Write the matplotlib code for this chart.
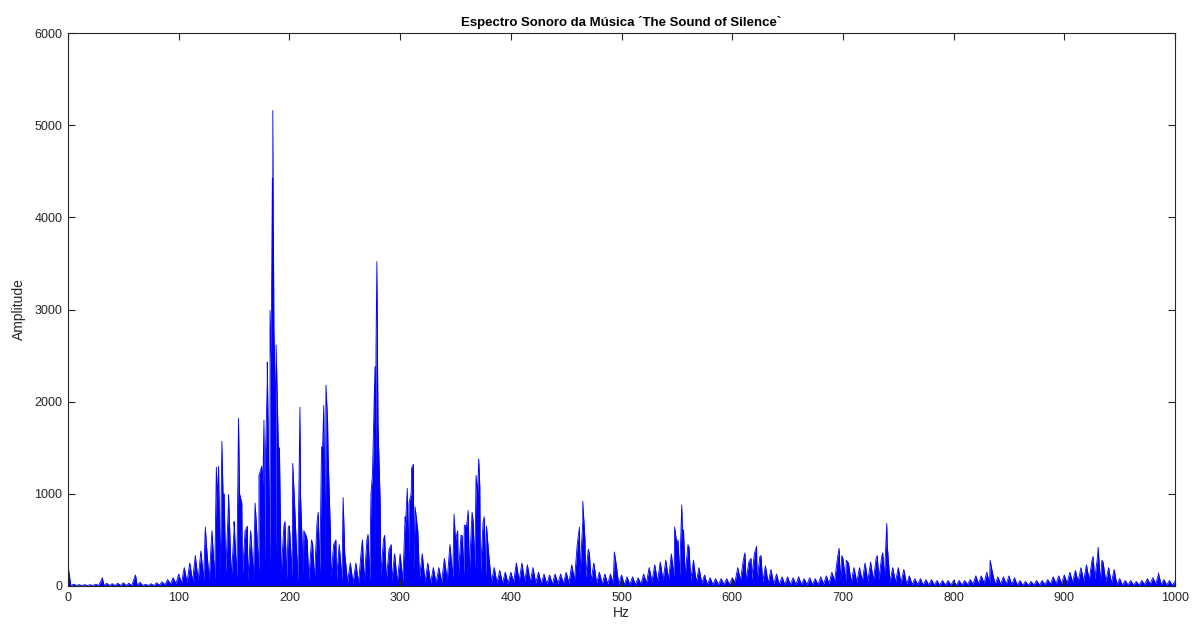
import numpy as np
import matplotlib
matplotlib.use("Agg")
import matplotlib.pyplot as plt

plt.rcParams['font.family'] = ['Liberation Sans', 'DejaVu Sans']

# upper envelope of the spectrum, every 5 Hz (0..1000)
upper_amp = [170, 20, 15, 15, 15, 20, 60, 30, 25, 30,
             35, 30, 90, 40, 20, 25, 35, 45, 70, 90,
             130, 200, 250, 330, 380, 450, 600, 900, 1000, 900,
             600, 1000, 600, 600, 700, 1300, 2200, 2600, 1500, 650,
             650, 800, 1000, 550, 500, 700, 1500, 1400, 450, 450,
             350, 250, 250, 400, 500, 1200, 1800, 500, 400, 350,
             350, 700, 1000, 700, 350, 250, 200, 200, 300, 450,
             500, 550, 650, 800, 1000, 700, 350, 200, 170, 150,
             150, 250, 250, 230, 200, 150, 130, 120, 130, 130,
             150, 230, 450, 700, 400, 250, 150, 130, 130, 250,
             120, 100, 100, 90, 130, 200, 230, 260, 280, 350,
             450, 600, 450, 280, 200, 120, 90, 80, 80, 80,
             90, 200, 280, 260, 350, 320, 220, 180, 130, 100,
             100, 90, 100, 80, 90, 80, 100, 110, 150, 300,
             300, 250, 200, 200, 250, 260, 300, 320, 450, 200,
             200, 180, 110, 80, 80, 70, 70, 60, 60, 60,
             60, 60, 60, 70, 110, 110, 150, 150, 100, 100,
             110, 90, 60, 50, 50, 60, 60, 70, 100, 110,
             120, 150, 170, 200, 230, 280, 320, 260, 200, 180,
             80, 60, 60, 50, 60, 80, 90, 120, 70, 60,
             50]

# troughs between envelope points, at 2.5, 7.5, ... 997.5 Hz
lower_amp = [5, 5, 5, 5, 5, 5, 5, 5, 5, 5,
             5, 5, 5, 5, 5, 5, 10, 15, 20, 25,
             30, 40, 50, 60, 70, 60, 80, 100, 150, 90,
             80, 120, 60, 90, 150, 250, 200, 300, 120, 80,
             90, 60, 120, 70, 60, 150, 250, 100, 60, 50,
             40, 30, 30, 50, 60, 200, 120, 60, 50, 40,
             50, 120, 150, 90, 40, 30, 30, 40, 60, 90,
             100, 120, 150, 200, 120, 80, 40, 30, 30, 25,
             40, 50, 50, 40, 30, 25, 20, 20, 25, 25,
             30, 60, 120, 90, 50, 30, 20, 20, 25, 15,
             15, 15, 15, 20, 30, 45, 50, 60, 70, 90,
             120, 110, 60, 40, 30, 15, 15, 15, 15, 15,
             40, 60, 50, 70, 60, 40, 30, 20, 15, 15,
             15, 15, 15, 15, 15, 15, 20, 25, 50, 60,
             50, 40, 40, 50, 50, 60, 70, 90, 40, 40,
             30, 20, 15, 15, 10, 10, 10, 10, 10, 10,
             10, 10, 15, 20, 25, 30, 25, 20, 20, 20,
             15, 10, 8, 8, 10, 10, 15, 20, 25, 25,
             30, 40, 45, 50, 60, 70, 50, 45, 30, 15,
             10, 10, 10, 10, 15, 20, 25, 15, 10, 8]

# narrow tonal peaks (Hz, amplitude)
peak_hz = [0.5, 31, 61, 124, 134, 136, 139, 141, 145, 150,
           154, 157, 162, 169, 172.5, 176, 177, 178.5, 180, 182.5,
           183.5, 184.6, 185, 186, 187, 188, 189, 191, 196, 199,
           203, 209.5, 213, 216, 221, 226, 229, 231, 233, 234.5,
           237, 242, 248.5, 266, 271, 273.7, 277.3, 278.2, 279, 280,
           282, 286, 292, 304.5, 306.5, 308, 310.4, 312, 313.5, 316,
           345, 348.7, 352, 356, 358, 361.5, 366, 368.6, 371, 372,
           376, 378, 462, 465, 467, 471, 493.5, 548, 551, 554.4,
           556, 561, 611.5, 617, 622, 626, 696.6, 699, 703, 731,
           736, 739.6, 833, 926, 930.6, 934, 985]
peak_amp = [180, 90, 120, 640, 1290, 1300, 1570, 1000, 990, 700,
            1820, 900, 650, 900, 1200, 1100, 1800, 1500, 2430, 2990,
            2500, 4420, 5160, 2780, 2200, 2615, 2050, 1500, 700, 650,
            1330, 1940, 600, 500, 450, 800, 1510, 1960, 2180, 1780,
            600, 500, 960, 500, 560, 1010, 2380, 2560, 3520, 1770,
            900, 550, 450, 750, 1060, 900, 1280, 1320, 860, 600,
            450, 780, 600, 550, 660, 820, 700, 1200, 1380, 1075,
            750, 650, 640, 920, 500, 350, 370, 640, 500, 880,
            610, 420, 360, 300, 430, 330, 410, 330, 280, 330,
            360, 680, 280, 320, 420, 280, 140]

upper_hz = np.arange(len(upper_amp)) * 5.0
lower_hz = np.arange(len(lower_amp)) * 5.0 + 2.5

hz = np.concatenate([upper_hz, lower_hz, peak_hz])
amp = np.concatenate([upper_amp, lower_amp, peak_amp])
order = np.argsort(hz, kind='stable')
hz, amp = hz[order], amp[order]

fig = plt.figure(figsize=(11.98, 6.27), dpi=100)
ax = fig.add_axes([68 / 1198, 1 - 586 / 627, (1175 - 68) / 1198, (586 - 33) / 627])
ax.fill_between(hz, amp, color='#0000ff', linewidth=0)
ax.plot(hz, amp, color='#0000ff', linewidth=0.6)

ax.set_xlim(0, 1000)
ax.set_ylim(0, 6000)
ax.set_xticks(np.arange(0, 1001, 100))
ax.set_yticks(np.arange(0, 6001, 1000))
ax.tick_params(direction='in', length=5, width=0.8, top=True, right=True,
               labelsize=9, colors='#262626', pad=4)
for s in ax.spines.values():
    s.set_color('#262626')
    s.set_linewidth(0.8)

ax.set_title("Espectro Sonoro da Música ´The Sound of Silence`",
             fontsize=9.5, fontweight='bold', pad=5)
ax.set_xlabel('Hz', fontsize=10, color='#262626', labelpad=2)
ax.set_ylabel('Amplitude', fontsize=10, color='#262626', labelpad=6)

fig.savefig('out.png', dpi=100)
